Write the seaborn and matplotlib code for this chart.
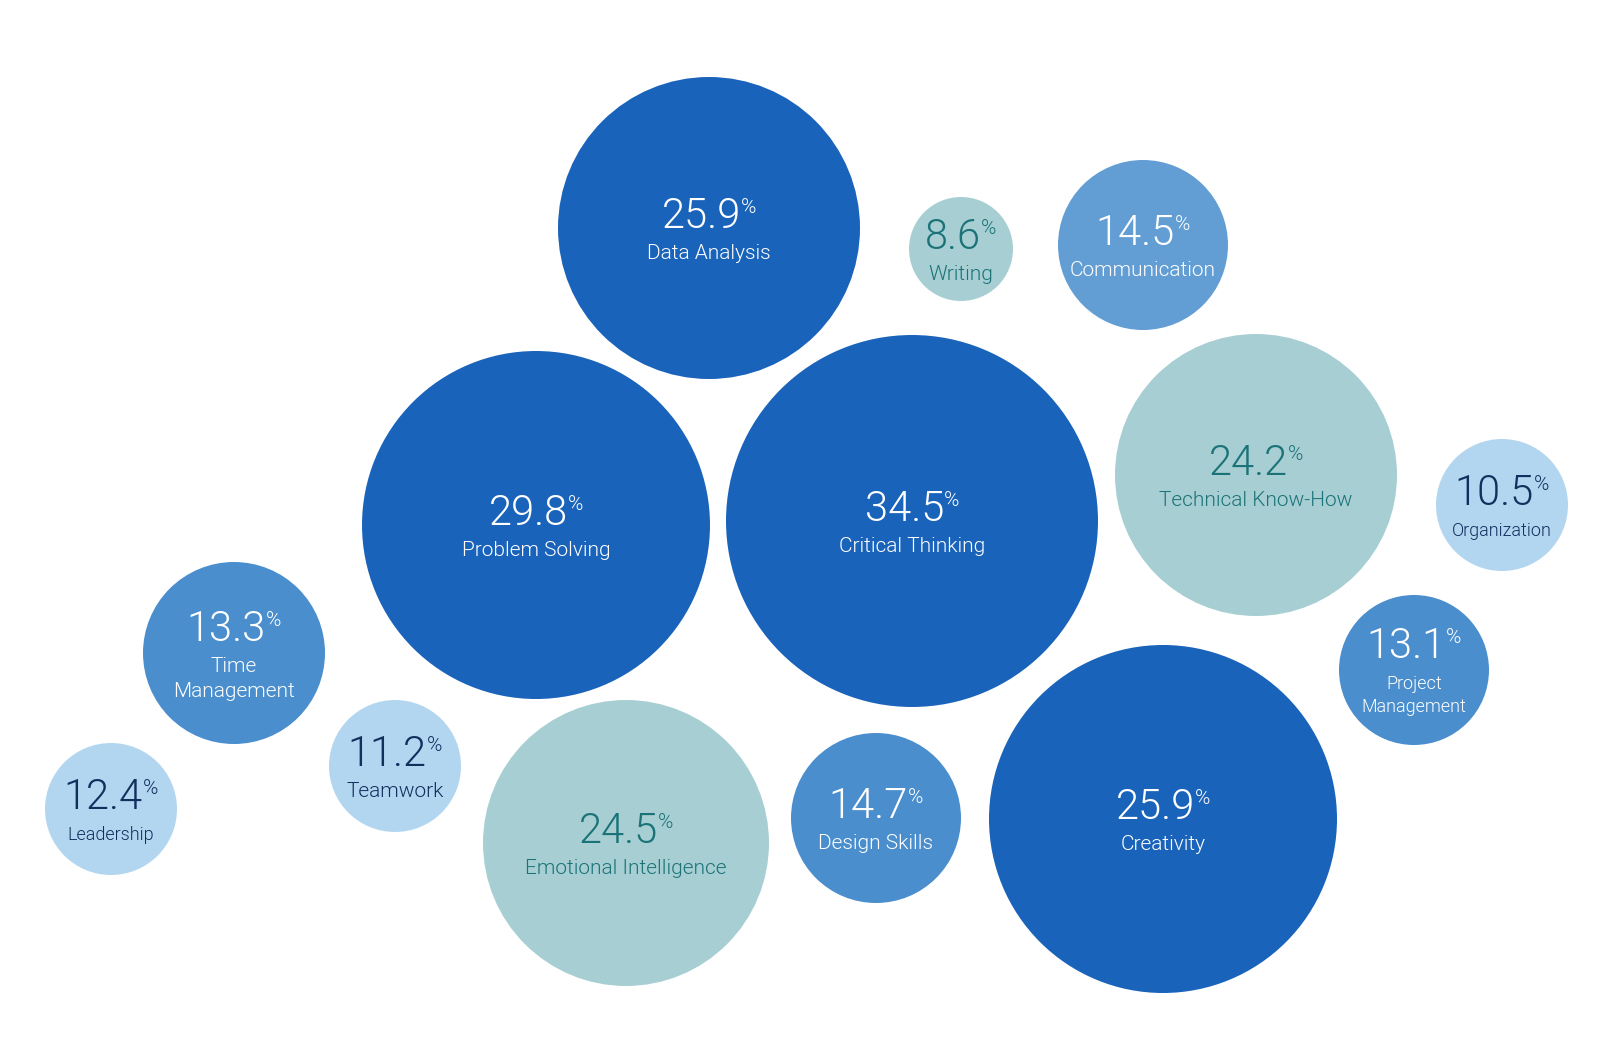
import matplotlib
matplotlib.use("Agg")
import matplotlib.pyplot as plt
import pandas as pd
import seaborn as sns
from matplotlib import font_manager

# skill shares (%)
skills = ["Data Analysis", "Writing", "Communication", "Problem Solving",
          "Critical Thinking", "Technical Know-How", "Organization",
          "Project\nManagement", "Time\nManagement", "Leadership", "Teamwork",
          "Emotional Intelligence", "Design Skills", "Creativity"]
shares = [25.9, 8.6, 14.5, 29.8, 34.5, 24.2, 10.5, 13.1, 13.3, 12.4, 11.2,
          24.5, 14.7, 25.9]
tiers = ["core", "teal", "soft", "core", "core", "teal", "light", "mid",
         "mid", "light", "light", "teal", "mid", "core"]

# bubble layout: centre and radius in canvas pixels
pos_x = [709, 961, 1143, 536, 912, 1256, 1502, 1414, 234, 111, 395, 626, 876, 1163]
pos_y = [228, 249, 245, 525, 521, 475, 505, 670, 653, 809, 766, 843, 818, 819]
radius = [151, 52, 85, 174, 186, 141, 66, 75, 91, 66, 66, 143, 85, 174]

W, H, DPI = 1612, 1062, 100
fill = {"core": "#1A63BA", "soft": "#629ED4", "mid": "#4A8ECE",
        "light": "#B3D6F0", "teal": "#A7CFD3"}
ink = {"core": "white", "soft": "white", "mid": "white",
       "light": "#12305E", "teal": "#1B7378"}
compact = {"Leadership", "Organization", "Project\nManagement"}

# pick a light Roboto cut if one is installed
names = {f.name for f in font_manager.fontManager.ttflist}
light_family = ["Roboto Light", "Roboto"] if "Roboto Light" in names else ["Roboto"]
light_weight = "normal" if "Roboto Light" in names else 300

df = pd.DataFrame({"skill": skills, "share": shares, "tier": tiers,
                   "x": pos_x, "y": pos_y, "r": radius})
df["s"] = (2 * df["r"] * 72 / DPI) ** 2

sns.set_style("white")
plt.rcParams["font.family"] = ["Roboto", "DejaVu Sans"]

fig = plt.figure(figsize=(W / DPI, H / DPI), dpi=DPI)
ax = fig.add_axes([0, 0, 1, 1])
sns.scatterplot(data=df, x="x", y="y", hue="tier", palette=fill, s=df["s"],
                linewidth=0, legend=False, ax=ax, zorder=1)
ax.set_xlim(0, W)
ax.set_ylim(H, 0)
ax.axis("off")

renderer = fig.canvas.get_renderer()
for _, row in df.iterrows():
    color = ink[row["tier"]]
    lines = row["skill"].split("\n")
    small = row["skill"] in compact
    lab_size = 13 if small else 15
    if len(lines) == 1:
        num_y = row["y"]
        lab_y = [row["y"] + 31]
    else:
        gap = 23 if small else 25
        num_y = row["y"] - 12
        lab_y = [num_y + 31, num_y + 31 + gap]

    num = ax.text(row["x"], num_y, f"{row['share']:.1f}", ha="center",
                  va="baseline", fontsize=30, family=light_family,
                  fontweight=light_weight, color=color)
    pct = ax.text(0, 0, "%", fontsize=15, family=light_family,
                  fontweight=light_weight, color=color, ha="left", va="baseline")
    w_num = num.get_window_extent(renderer).width
    w_pct = pct.get_window_extent(renderer).width
    shift = w_pct / 2
    num.set_x(row["x"] - shift)
    pct.set_position((row["x"] - shift + w_num / 2, num_y - 15))

    for txt, ly in zip(lines, lab_y):
        ax.text(row["x"], ly, txt, ha="center", va="baseline",
                fontsize=lab_size, family=light_family,
                fontweight=light_weight, color=color)

fig.savefig("out.png", dpi=DPI, facecolor="white")
plt.close(fig)
